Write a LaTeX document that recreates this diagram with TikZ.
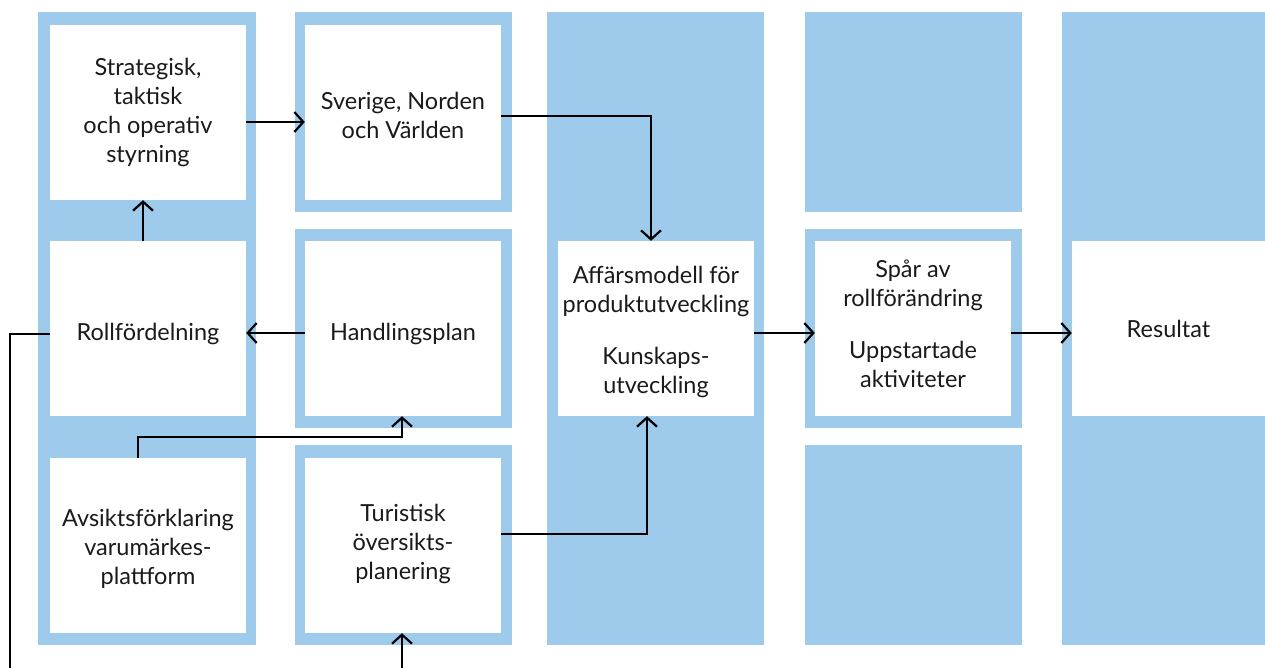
\documentclass[tikz,border=0pt]{standalone}
\usepackage{fontspec}
\setmainfont{Lato}
\usetikzlibrary{arrows.meta}
\definecolor{panelblue}{HTML}{9ECBEC}
\definecolor{ink}{HTML}{1A1A1A}
\tikzset{
  whitebox/.style={fill=white, inner sep=0pt, minimum width=196pt, minimum height=175pt},
  txt/.style={align=center, text=ink, inner sep=0pt, font=\fontsize{23.5pt}{29pt}\selectfont},
  conn/.style={line width=2.2pt, draw=black},
  arr/.style={conn, -{Straight Barb[length=9pt,width=20pt]}},
}
\begin{document}
\begin{tikzpicture}[x=1pt,y=-1pt]
\useasboundingbox (0,0) rectangle (1265,668);
% blue panels
\fill[panelblue] (38,12) rectangle (256,645);
\fill[panelblue] (295,12) rectangle (512,212);
\fill[panelblue] (295,229) rectangle (512,428);
\fill[panelblue] (295,445) rectangle (512,645);
\fill[panelblue] (547,12) rectangle (764,645);
\fill[panelblue] (805,12) rectangle (1022,212);
\fill[panelblue] (805,229) rectangle (1022,428);
\fill[panelblue] (805,445) rectangle (1022,645);
\fill[panelblue] (1062,12) rectangle (1265,645);
% white boxes with their texts
\node[whitebox, label={[txt]center:{Strategisk,\\taktisk\\och operativ\\styrning}}] (s) at (148,112.5) {};
\node[whitebox, label={[txt,yshift=-3pt]center:{Sverige, Norden\\och Världen}}] (sv) at (403,112.5) {};
\node[whitebox, label={[txt,yshift=-5pt]center:{Rollfördelning}}] (rf) at (148,328.5) {};
\node[whitebox, label={[txt,yshift=-5pt]center:{Handlingsplan}}] (hp) at (403,328.5) {};
\node[whitebox, label={[txt,yshift=-3pt]center:{Avsiktsförklaring\\varumärkes-\\plattform}}] (av) at (148,545.5) {};
\node[whitebox, label={[txt,yshift=2pt]center:{Turistisk\\översikts-\\planering}}] (tu) at (403,545.5) {};
\node[whitebox, label={[txt,yshift=-3pt]center:{Affärsmodell för\\produktutveckling\\[23pt]Kunskaps-\\utveckling}}] (am) at (656,328.5) {};
\node[whitebox, label={[txt,yshift=5pt]center:{Spår av\\rollförändring\\[23pt]Uppstartade\\aktiviteter}}] (sp) at (913,328.5) {};
\node[whitebox, minimum width=193pt, label={[txt]center:{Resultat}}] (re) at (1168.5,328.5) {};
% helper coordinates
\coordinate (k1) at (402,437);
\coordinate (bt) at (402,668);
\coordinate (bl) at (10,668);
% connectors
\draw[arr] ([yshift=-9.5pt]s.east) -- ([yshift=-9.5pt]sv.west);
\draw[arr] ([xshift=-5pt]rf.north) -- ([xshift=-5pt]s.south);
\draw[arr] ([yshift=-4.5pt]hp.west) -- ([yshift=-4.5pt]rf.east);
\draw[arr] ([yshift=-3.5pt]sv.east) -| ([xshift=-5pt]am.north);
\draw[arr] ([xshift=-10pt]av.north) |- (k1) -- ([xshift=-1pt]hp.south);
\draw[arr] ([yshift=11.5pt]tu.east) -| ([xshift=-9pt]am.south);
\draw[arr] (bt) -- ([xshift=-1pt]tu.south);
\draw[conn] ([yshift=-5.5pt]rf.west) -| (bl);
\draw[arr] ([yshift=-4.5pt]am.east) -- ([yshift=-4.5pt]sp.west);
\draw[arr] ([yshift=-4.5pt]sp.east) -- ([yshift=-4.5pt]re.west);
\end{tikzpicture}
\end{document}
